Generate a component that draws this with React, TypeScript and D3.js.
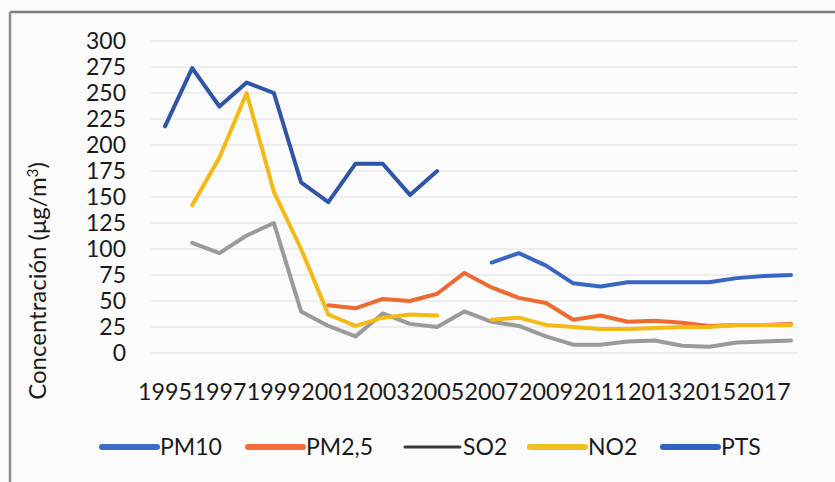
import React from "react";
import * as d3 from "d3";

const years: number[] = [1995,1996,1997,1998,1999,2000,2001,2002,2003,2004,2005,2006,2007,2008,2009,2010,2011,2012,2013,2014,2015,2016,2017,2018];
const xTickYears: number[] = [1995,1997,1999,2001,2003,2005,2007,2009,2011,2013,2015,2017];
const yTicks: number[] = [0,25,50,75,100,125,150,175,200,225,250,275,300];

type V = number | null;
const pm10: V[] = [null,null,null,null,null,null,null,null,null,null,null,null,87,96,84,67,64,68,68,68,68,72,74,75];
const pm25: V[] = [null,null,null,null,null,null,46,43,52,50,57,77,63,53,48,32,36,30,31,29,26,27,27,28];
const so2: V[] = [null,106,96,113,125,40,26,16,38,28,25,40,30,26,16,8,8,11,12,7,6,10,11,12];
const no2: V[] = [null,142,188,250,155,100,37,26,34,37,36,null,32,34,27,25,23,23,24,25,25,27,27,27];
const pts: V[] = [218,274,237,260,250,164,145,182,182,152,175,null,null,null,null,null,null,null,null,null,null,null,null,null];

const seriesNames = ["PM10","PM2,5","SO2","NO2","PTS"];
const seriesValues = [pm10, pm25, so2, no2, pts];
const lineColors = ["#3767C2","#EE6A30","#9A9A9A","#F5B914","#2F55A8"];
const legendColors = ["#3D6CC6","#F26D3A","#3A3A3A","#F0C020","#3062C2"];
const legendLineWidth = [6,6,3,6,6];
const legendX = [102,248,405,530,663];

const FONT = "Lato, 'Open Sans', sans-serif";

export default function App() {
  const W = 835, H = 482;
  const x = d3.scalePoint<number>().domain(years).range([165, 791]);
  const y = d3.scaleLinear().domain([0, 300]).range([353, 41]);
  const line = d3.line<V>()
    .defined((d) => d !== null)
    .x((_, i) => x(years[i]) as number)
    .y((d) => y(d as number));

  return (
    <svg width={W} height={H} style={{ position: "absolute", left: 0, top: 0, background: "#fbfbfb" }}>
      <rect x={0} y={0} width={W} height={H} fill="#fbfbfb" />
      <line x1={10} y1={12} x2={W} y2={12} stroke="#7d7d7d" strokeWidth={2.5} />
      <line x1={10} y1={12} x2={10} y2={H} stroke="#8a8a8a" strokeWidth={2.5} />
      {yTicks.map((t) => (
        <g key={t}>
          <line x1={151} x2={798} y1={y(t)} y2={y(t)} stroke="#e8e8e8" strokeWidth={1.5} />
          <text x={126} y={y(t)} dy="0.36em" textAnchor="end" fontFamily={FONT} fontSize={23} fill="#1a1a1a">{t}</text>
        </g>
      ))}
      {xTickYears.map((yr) => (
        <text key={yr} x={x(yr)} y={400} textAnchor="middle" fontFamily={FONT} fontSize={23} fill="#1a1a1a" textLength={54} lengthAdjust="spacingAndGlyphs">{yr}</text>
      ))}
      <text transform="translate(46,281) rotate(-90)" textAnchor="middle" fontFamily={FONT} fontSize={24} fill="#1a1a1a">
        Concentración (μg/m<tspan dy="-8" fontSize={15}>3</tspan><tspan dy="8">)</tspan>
      </text>
      {seriesValues.map((vals, i) => (
        <path key={seriesNames[i]} d={line(vals) || ""} fill="none" stroke={lineColors[i]} strokeWidth={4} strokeLinejoin="round" strokeLinecap="round" />
      ))}
      {seriesNames.map((name, i) => (
        <g key={name}>
          <line x1={legendX[i]} x2={legendX[i] + 55} y1={447} y2={447} stroke={legendColors[i]} strokeWidth={legendLineWidth[i]} strokeLinecap="round" />
          <text x={legendX[i] + 58} y={455} fontFamily={FONT} fontSize={23} fill="#1a1a1a">{name}</text>
        </g>
      ))}
    </svg>
  );
}
